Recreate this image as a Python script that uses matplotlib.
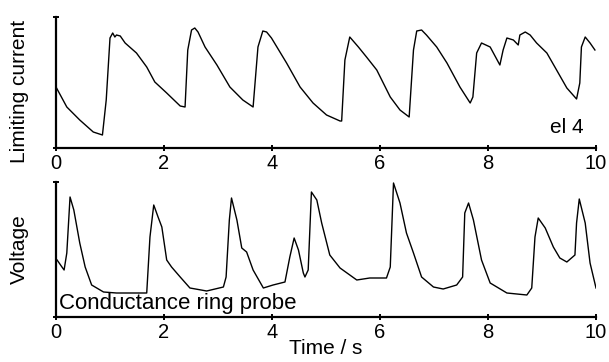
import numpy as np
import matplotlib
matplotlib.use("Agg")
import matplotlib.pyplot as plt

plt.rcParams['font.family'] = ['Liberation Sans', 'DejaVu Sans']

# limiting current trace (el 4), time in s, signal in arbitrary units
t_current = [0.0, 0.2, 0.44, 0.69, 0.86, 0.93, 1.0, 1.05, 1.09, 1.12,
             1.19, 1.28, 1.49, 1.68, 1.83, 2.05, 2.3, 2.39, 2.44, 2.51,
             2.57, 2.63, 2.76, 2.98, 3.22, 3.46, 3.65, 3.74, 3.83, 3.9,
             3.99, 4.27, 4.52, 4.76, 5.01, 5.26, 5.29, 5.35, 5.44, 5.6,
             5.75, 5.94, 6.19, 6.37, 6.54, 6.62, 6.68, 6.77, 6.86, 7.05,
             7.24, 7.48, 7.67, 7.72, 7.79, 7.88, 8.04, 8.22, 8.28, 8.35,
             8.47, 8.56, 8.59, 8.69, 8.78, 8.9, 9.09, 9.27, 9.46, 9.64,
             9.7, 9.73, 9.8, 9.89, 9.98]
current = [61, 41, 28, 16, 13, 48, 110, 115, 111, 113,
           112, 105, 95, 81, 66, 55, 42, 41, 98, 118,
           120, 116, 101, 83, 61, 48, 41, 101, 117, 116,
           110, 85, 61, 45, 33, 27, 27, 88, 111, 101,
           91, 78, 51, 38, 31, 98, 117, 118, 113, 101,
           85, 61, 45, 51, 95, 105, 101, 83, 98, 110,
           108, 103, 113, 116, 113, 105, 95, 78, 60, 49,
           65, 101, 111, 105, 98]

# conductance ring probe trace
t_voltage = [0.02, 0.11, 0.15, 0.2, 0.26, 0.33, 0.44, 0.54, 0.66, 0.88,
             1.12, 1.68, 1.74, 1.81, 1.89, 1.96, 2.05, 2.14, 2.3, 2.48,
             2.79, 3.1, 3.15, 3.21, 3.25, 3.35, 3.44, 3.53, 3.65, 3.84,
             4.02, 4.24, 4.33, 4.41, 4.49, 4.58, 4.61, 4.67, 4.73, 4.83,
             4.92, 5.07, 5.26, 5.57, 5.81, 6.12, 6.19, 6.25, 6.37, 6.49,
             6.62, 6.77, 6.99, 7.17, 7.42, 7.53, 7.57, 7.64, 7.73, 7.88,
             8.04, 8.35, 8.72, 8.81, 8.87, 8.93, 9.06, 9.21, 9.33, 9.46,
             9.61, 9.64, 9.69, 9.8, 9.89, 10.0]
voltage = [57, 50, 47, 64, 120, 107, 74, 50, 32, 25,
           24, 24, 80, 112, 100, 90, 57, 50, 40, 29,
           26, 30, 40, 97, 119, 97, 69, 65, 47, 29,
           32, 35, 60, 79, 67, 44, 40, 47, 125, 117,
           94, 62, 49, 37, 39, 39, 50, 134, 114, 84,
           64, 40, 30, 28, 32, 40, 104, 114, 97, 57,
           34, 24, 22, 29, 80, 99, 89, 70, 59, 55,
           62, 94, 118, 94, 54, 29]

tick_vals = [0, 2, 4, 6, 8, 10]

fig = plt.figure(figsize=(6.09, 3.62), dpi=100)
W, H = 609.0, 362.0
ax1 = fig.add_axes([56 / W, (H - 148) / H, 540 / W, 131 / H])
ax2 = fig.add_axes([56 / W, (H - 317) / H, 540 / W, 135 / H])

for ax, t, y, top in [(ax1, t_current, current, 131), (ax2, t_voltage, voltage, 135)]:
    ax.plot(t, y, color='black', lw=1.0)
    ax.set_xlim(0, 10)
    ax.set_ylim(0, top)
    ax.spines[["right", "top"]].set_visible(False)
    ax.spines[["left", "bottom"]].set_linewidth(1.6)
    ax.set_xticks(tick_vals)
    ax.set_xticklabels([str(v) for v in tick_vals], fontsize=14.5)
    ax.set_yticks([0, top])
    ax.set_yticklabels([])
    ax.tick_params(axis='both', direction='inout', length=5, width=1.4, pad=2)

ax1.set_ylabel("Limiting current", fontsize=15)
ax1.yaxis.set_label_coords(-0.05, 0.43)
ax2.set_ylabel("Voltage", fontsize=15)
ax2.yaxis.set_label_coords(-0.05, 0.5)
ax2.set_xlabel("Time / s", fontsize=15, labelpad=-2)

ax1.text(9.77, 20, "el 4", fontsize=15, ha='right', va='center')
ax2.text(0.05, 14, "Conductance ring probe", fontsize=16, ha='left', va='center')

fig.savefig("out.png", dpi=100)
